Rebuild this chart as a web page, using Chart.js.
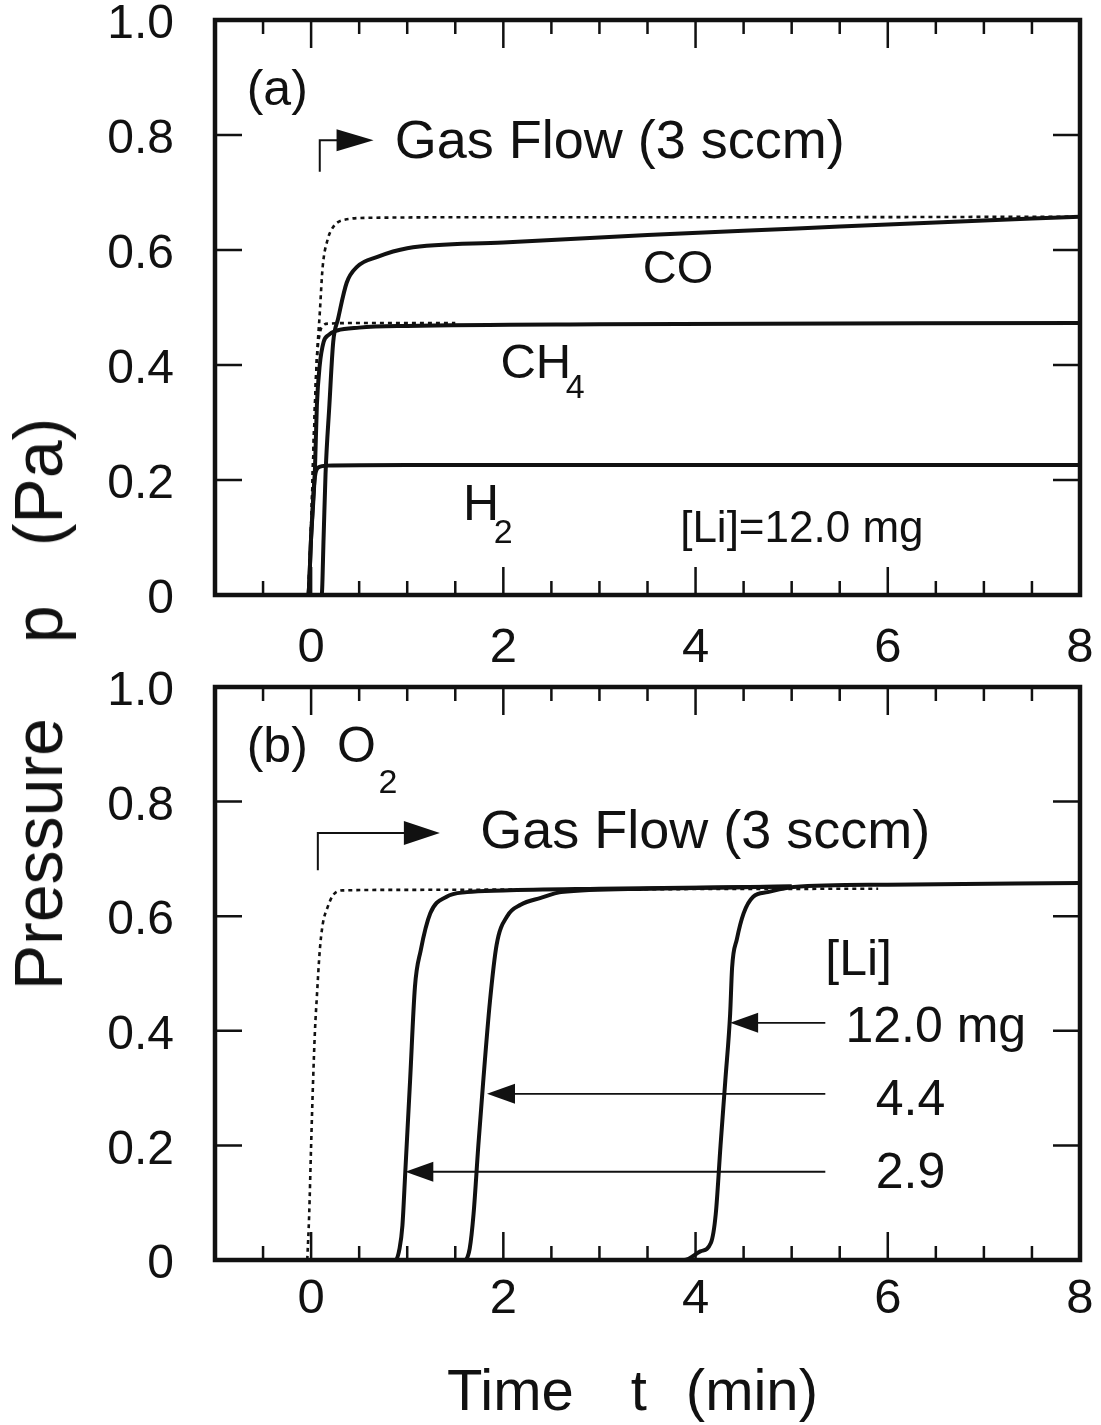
<!DOCTYPE html>
<html>
<head>
<meta charset="utf-8">
<script src="https://cdn.jsdelivr.net/npm/chart.js@4.4.1/dist/chart.umd.min.js"></script>
<style>
  body { margin: 0; background: #fff; width: 1101px; height: 1425px; position: relative; overflow: hidden;
         font-family: "Liberation Sans", Arial, Helvetica, sans-serif; color: #111; }
  canvas { position: absolute; left: 0; }
  #ca { top: 0; }
  #cb { top: 660px; }
  .title { position: absolute; white-space: nowrap; line-height: 1; }
  #xtitle { left: 447px; top: 1361px; font-size: 58px; }
  #ytitle { left: 38px; top: 704px; font-size: 68px; transform: translate(-50%, -50%) rotate(-90deg); }
</style>
</head>
<body>
<canvas id="ca" width="1101" height="680"></canvas>
<canvas id="cb" width="1101" height="765"></canvas>
<div class="title" id="xtitle">Time<span style="margin-left:57px">t</span><span style="margin-left:39px">(min)</span></div>
<div class="title" id="ytitle">Pressure<span style="margin-left:75px">p</span><span style="margin-left:59px">(Pa)</span></div>
<script>
const FONT = '"Liberation Sans", Arial, Helvetica, sans-serif';
const INK = '#111';

// axis ticks
const xLabelVals = [0, 2, 4, 6, 8];
const yTickVals = [0, 0.2, 0.4, 0.6, 0.8, 1.0];

// panel (a): [Li] = 12.0 mg, CO / CH4 / H2
const coTime = [-1, 0.11, 0.13, 0.15, 0.19, 0.23, 0.28, 0.37, 0.48, 0.69, 1.0, 2, 3.5, 5, 6.5, 8];
const coP    = [0, 0, 0.1, 0.21, 0.33, 0.44, 0.48, 0.543, 0.571, 0.588, 0.603, 0.613, 0.626, 0.637, 0.648, 0.658];
const ch4Time = [-1, -0.03, 0.0, 0.04, 0.06, 0.09, 0.13, 0.18, 0.27, 0.5, 1, 3, 8];
const ch4P    = [0, 0, 0.1, 0.22, 0.33, 0.40, 0.44, 0.452, 0.46, 0.465, 0.468, 0.471, 0.473];
const h2Time = [-1, -0.03, 0.0, 0.03, 0.05, 0.09, 0.15, 1, 8];
const h2P    = [0, 0, 0.1, 0.19, 0.215, 0.223, 0.225, 0.226, 0.226];
// dotted: no lithium reference
const coRefTime = [-0.03, 0.0, 0.03, 0.06, 0.09, 0.12, 0.17, 0.23, 0.33, 0.6, 2, 5, 8];
const coRefP    = [0, 0.12, 0.28, 0.41, 0.49, 0.57, 0.617, 0.64, 0.652, 0.656, 0.657, 0.657, 0.658];
const ch4RefTime = [-0.03, 0.0, 0.03, 0.06, 0.09, 0.12, 0.18, 0.5, 1.5];
const ch4RefP    = [0, 0.12, 0.28, 0.41, 0.455, 0.468, 0.472, 0.473, 0.473];

// panel (b): O2 for three lithium loads
const o2RefTime = [-0.04, -0.02, 0.0, 0.02, 0.04, 0.06, 0.09, 0.12, 0.17, 0.23, 0.33, 1, 3, 5.9];
const o2RefP    = [0, 0.08, 0.2, 0.31, 0.4, 0.46, 0.54, 0.585, 0.615, 0.637, 0.645, 0.646, 0.647, 0.648];
const li29Time = [-1, 0.88, 0.92, 0.95, 0.98, 1.03, 1.08, 1.14, 1.24, 1.41, 1.62, 2.0, 3, 5.0];
const li29P    = [0, 0, 0.02, 0.06, 0.154, 0.314, 0.476, 0.54, 0.605, 0.634, 0.642, 0.645, 0.648, 0.652];
const li44Time = [-1, 1.6, 1.65, 1.69, 1.74, 1.79, 1.86, 1.93, 2.04, 2.18, 2.39, 2.6, 3.5, 5.0];
const li44P    = [0, 0, 0.02, 0.08, 0.2, 0.31, 0.45, 0.55, 0.6, 0.62, 0.632, 0.642, 0.648, 0.652];
const li120Time = [-1, 3.88, 4.05, 4.16, 4.21, 4.26, 4.31, 4.36, 4.38, 4.43, 4.5, 4.6, 4.75, 5.02, 6, 8];
const li120P    = [0, 0, 0.015, 0.03, 0.08, 0.2, 0.314, 0.43, 0.51, 0.56, 0.605, 0.634, 0.642, 0.651, 0.655, 0.658];

function pts(ts, ps) {
    return ts.map((t, i) => ({ x: t, y: ps[i] }));
}
function solid(ts, ps) {
    return { data: pts(ts, ps), borderColor: INK, borderWidth: 4, pointRadius: 0,
             cubicInterpolationMode: 'monotone', fill: false };
}
function dotted(ts, ps) {
    return { ...solid(ts, ps), borderWidth: 2.6, borderDash: [4, 4] };
}

function text(ctx, s, px, py, size) {
    ctx.font = size + 'px ' + FONT;
    ctx.textAlign = 'left';
    ctx.textBaseline = 'alphabetic';
    ctx.fillText(s, px, py);
}
// filled arrow head, dir = 1 points right, -1 points left
function head(ctx, tx, ty, dir, len, half) {
    ctx.beginPath();
    ctx.moveTo(tx, ty);
    ctx.lineTo(tx - dir * len, ty - half);
    ctx.lineTo(tx - dir * len, ty + half);
    ctx.closePath();
    ctx.fill();
}

// frame with inward ticks on all four sides
const frameTicks = {
    id: 'frameTicks',
    afterDraw(chart) {
        const { ctx, chartArea: a, scales: { x, y } } = chart;
        ctx.save();
        ctx.strokeStyle = INK;
        ctx.lineWidth = 2.5;
        ctx.beginPath();
        for (let v = -0.5; v < 8; v += 0.5) {
            const px = x.getPixelForValue(v);
            const len = (v >= 0 && v % 2 === 0) ? 28 : 14;
            ctx.moveTo(px, a.bottom); ctx.lineTo(px, a.bottom - len);
            ctx.moveTo(px, a.top); ctx.lineTo(px, a.top + len);
        }
        yTickVals.forEach(v => {
            const py = y.getPixelForValue(v);
            ctx.moveTo(a.left, py); ctx.lineTo(a.left + 27, py);
            ctx.moveTo(a.right, py); ctx.lineTo(a.right - 27, py);
        });
        ctx.stroke();
        ctx.lineWidth = 4.5;
        ctx.strokeRect(a.left, a.top, a.right - a.left, a.bottom - a.top);
        ctx.restore();
    }
};

const notesA = {
    id: 'notesA',
    afterDraw(chart) {
        const { ctx, scales: { x, y } } = chart;
        const X = v => x.getPixelForValue(v), Y = v => y.getPixelForValue(v);
        ctx.save();
        ctx.fillStyle = INK; ctx.strokeStyle = INK;
        text(ctx, '(a)', X(-0.67), Y(0.852), 50);
        ctx.lineWidth = 2;
        ctx.beginPath();
        ctx.moveTo(X(0.09), Y(0.736)); ctx.lineTo(X(0.09), Y(0.791)); ctx.lineTo(X(0.4), Y(0.791));
        ctx.stroke();
        head(ctx, X(0.65), Y(0.791), 1, 37, 11);
        text(ctx, 'Gas Flow (3 sccm)', X(0.87), Y(0.76), 54);
        text(ctx, 'CO', X(3.45), Y(0.543), 47);
        text(ctx, 'CH', X(1.97), Y(0.377), 49);
        text(ctx, '4', X(2.65), Y(0.343), 34);
        text(ctx, 'H', X(1.58), Y(0.13), 50);
        text(ctx, '2', X(1.9), Y(0.09), 34);
        text(ctx, '[Li]=12.0 mg', X(3.84), Y(0.092), 44);
        ctx.restore();
    }
};

const notesB = {
    id: 'notesB',
    afterDraw(chart) {
        const { ctx, scales: { x, y } } = chart;
        const X = v => x.getPixelForValue(v), Y = v => y.getPixelForValue(v);
        ctx.save();
        ctx.fillStyle = INK; ctx.strokeStyle = INK;
        text(ctx, '(b)', X(-0.67), Y(0.869), 50);
        text(ctx, 'O', X(0.27), Y(0.869), 50);
        text(ctx, '2', X(0.70), Y(0.815), 34);
        ctx.lineWidth = 2;
        ctx.beginPath();
        ctx.moveTo(X(0.07), Y(0.68)); ctx.lineTo(X(0.07), Y(0.745)); ctx.lineTo(X(1.0), Y(0.745));
        ctx.stroke();
        head(ctx, X(1.34), Y(0.745), 1, 36, 12);
        text(ctx, 'Gas Flow (3 sccm)', X(1.76), Y(0.719), 54);
        text(ctx, '[Li]', X(5.35), Y(0.497), 50);
        text(ctx, '12.0 mg', X(5.56), Y(0.38), 50);
        text(ctx, '4.4', X(5.875), Y(0.253), 50);
        text(ctx, '2.9', X(5.875), Y(0.126), 50);
        // pointers from the labels to the curves
        [[0.414, 4.36], [0.29, 1.83], [0.154, 0.98]].forEach(([p, tip]) => {
            ctx.lineWidth = 1.8;
            ctx.beginPath();
            ctx.moveTo(X(5.35), Y(p)); ctx.lineTo(X(tip) + 20, Y(p));
            ctx.stroke();
            head(ctx, X(tip), Y(p), -1, 28, 10);
        });
        ctx.restore();
    }
};

function makeOptions(padTop, xHeight, xPad) {
    return {
        responsive: false,
        animation: false,
        layout: { padding: { top: padTop, right: 21, left: 0, bottom: 0 } },
        plugins: { legend: { display: false }, tooltip: { enabled: false } },
        scales: {
            x: {
                type: 'linear', min: -1, max: 8,
                grid: { display: false }, border: { display: false },
                afterBuildTicks: s => { s.ticks = xLabelVals.map(v => ({ value: v })); },
                afterFit: s => { s.height = xHeight; s.paddingLeft = 0; s.paddingRight = 0; },
                ticks: { font: { size: 49, family: FONT }, color: INK, padding: xPad, maxRotation: 0, autoSkip: false }
            },
            y: {
                type: 'linear', min: 0, max: 1,
                grid: { display: false }, border: { display: false },
                afterBuildTicks: s => { s.ticks = yTickVals.map(v => ({ value: v })); },
                afterFit: s => { s.width = 215; s.paddingTop = 0; s.paddingBottom = 0; },
                ticks: { font: { size: 48, family: FONT }, color: INK, padding: 33, labelOffset: 5,
                         callback: v => v === 0 ? '0' : v.toFixed(1) }
            }
        }
    };
}

new Chart(document.getElementById('ca').getContext('2d'), {
    type: 'line',
    data: { datasets: [
        solid(coTime, coP), solid(ch4Time, ch4P), solid(h2Time, h2P),
        dotted(coRefTime, coRefP), dotted(ch4RefTime, ch4RefP)
    ] },
    options: makeOptions(20, 85, 16),
    plugins: [frameTicks, notesA]
});

new Chart(document.getElementById('cb').getContext('2d'), {
    type: 'line',
    data: { datasets: [
        solid(li29Time, li29P), solid(li44Time, li44P), solid(li120Time, li120P),
        dotted(o2RefTime, o2RefP)
    ] },
    options: makeOptions(27, 165, 2),
    plugins: [frameTicks, notesB]
});
</script>
</body>
</html>
